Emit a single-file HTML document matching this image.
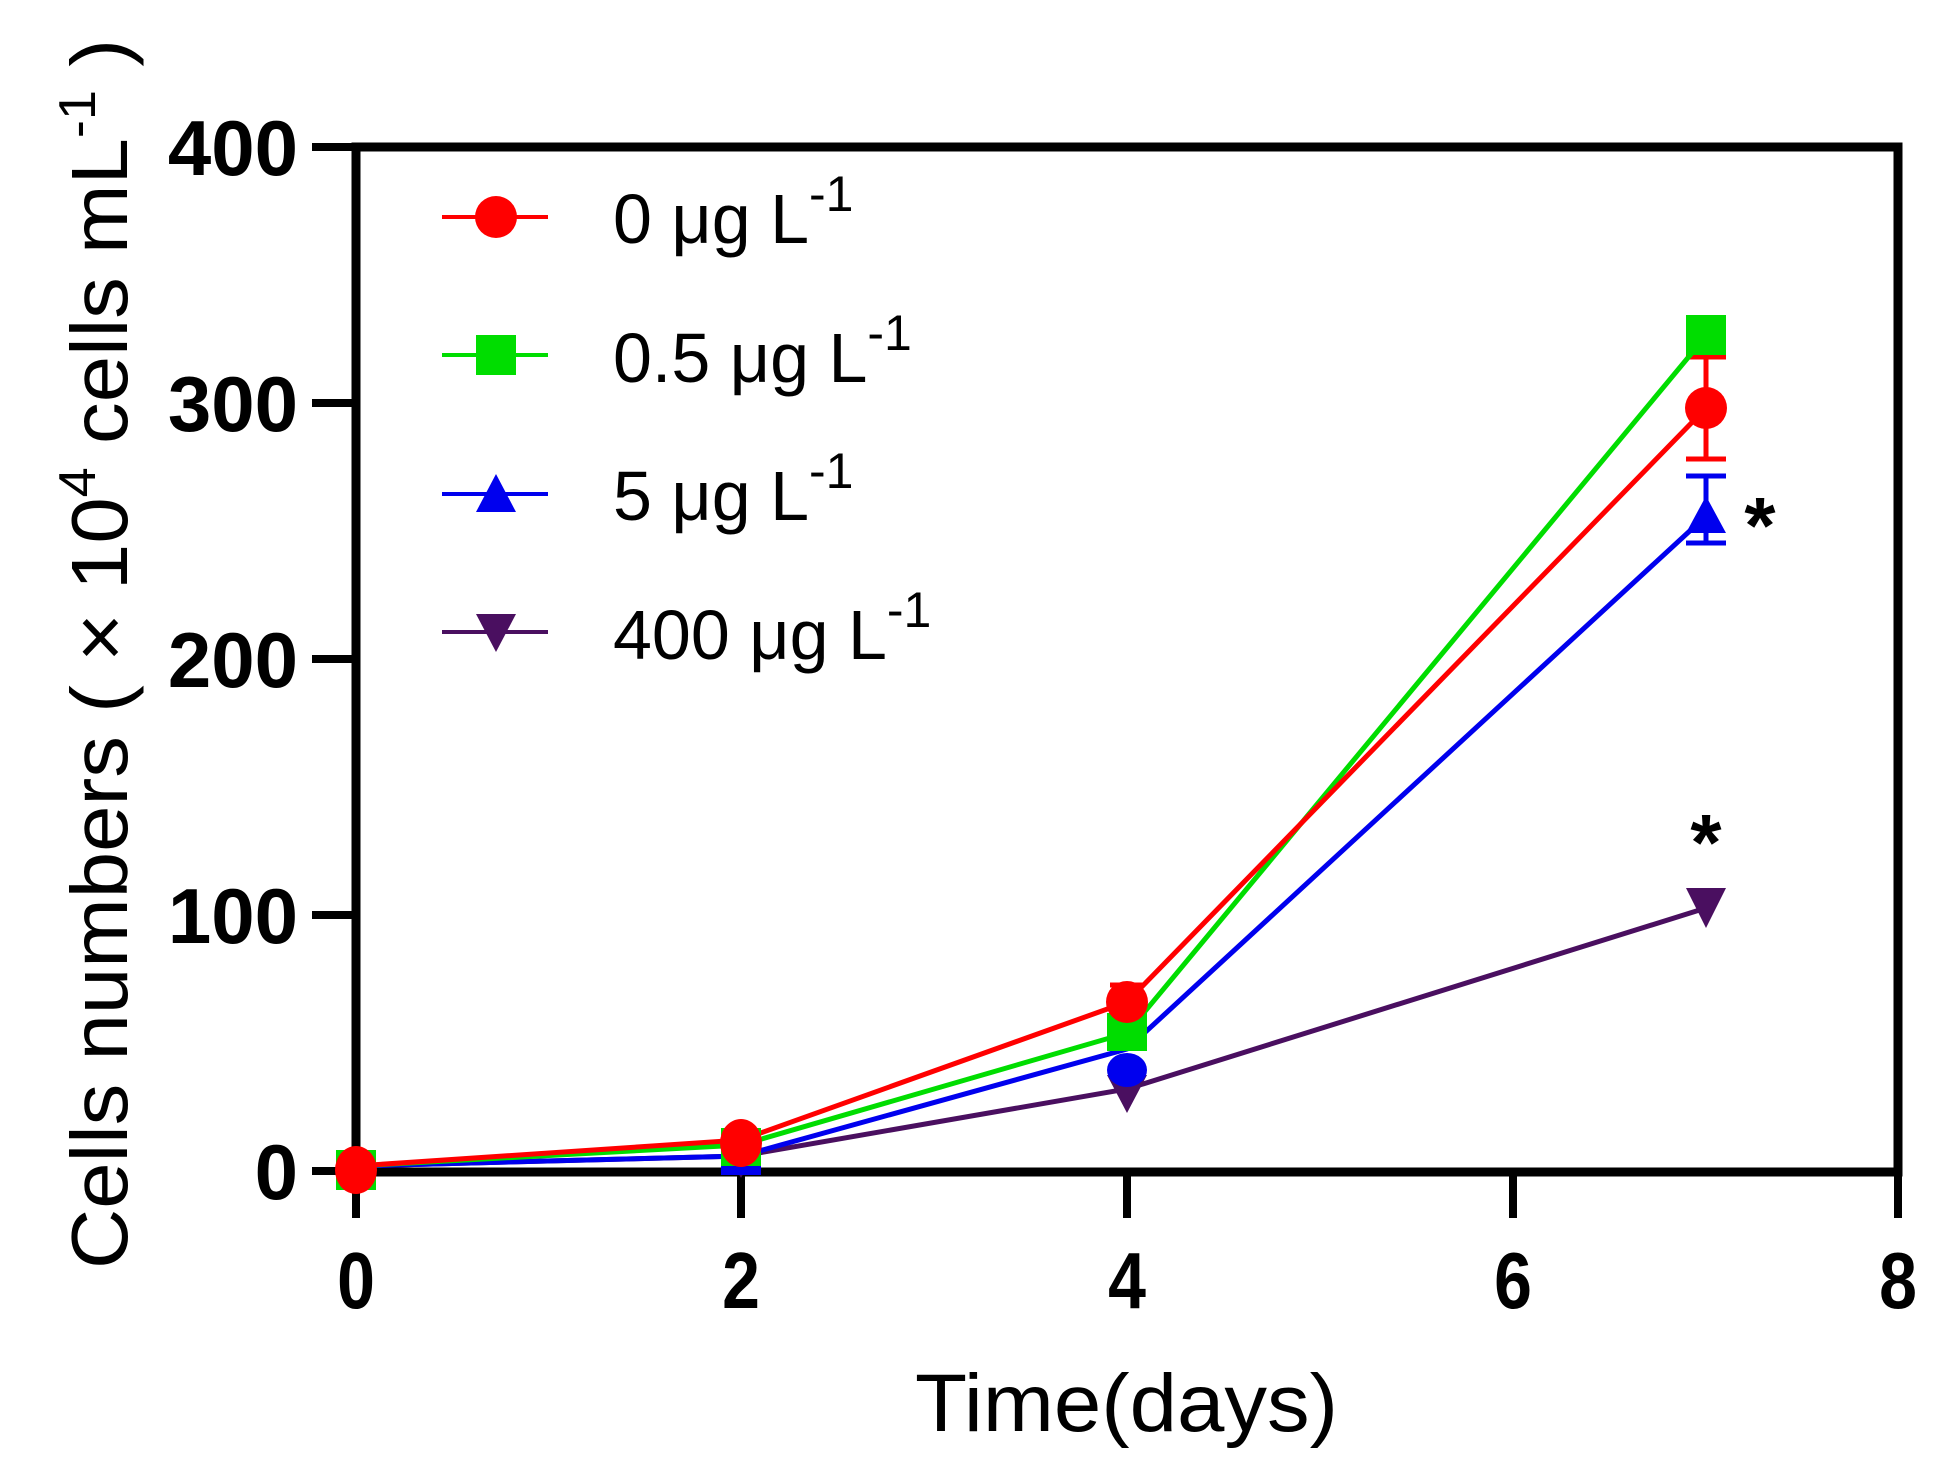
<!DOCTYPE html>
<html><head><meta charset="utf-8"><style>html,body{margin:0;padding:0;background:#fff}svg{display:block}</style></head>
<body>
<svg width="1951" height="1479" viewBox="0 0 1951 1479" xmlns="http://www.w3.org/2000/svg">
<g stroke="#000" stroke-width="9" fill="none">
<rect x="356" y="147" width="1542" height="1025"/>
</g>
<g stroke="#000" stroke-width="8">
<line x1="312" y1="147" x2="356" y2="147"/>
<line x1="312" y1="403" x2="356" y2="403"/>
<line x1="312" y1="659" x2="356" y2="659"/>
<line x1="312" y1="915" x2="356" y2="915"/>
<line x1="312" y1="1171" x2="356" y2="1171"/>
<line x1="356" y1="1171" x2="356" y2="1218"/>
<line x1="741" y1="1171" x2="741" y2="1218"/>
<line x1="1127" y1="1171" x2="1127" y2="1218"/>
<line x1="1513" y1="1171" x2="1513" y2="1218"/>
<line x1="1898" y1="1171" x2="1898" y2="1218"/>
</g>
<g font-family="Liberation Sans, sans-serif" font-weight="bold" font-size="78" text-anchor="end" fill="#000">
<text x="298" y="175">400</text>
<text x="298" y="431">300</text>
<text x="298" y="687">200</text>
<text x="298" y="943">100</text>
<text x="298" y="1199">0</text>
</g>
<g font-family="Liberation Sans, sans-serif" font-weight="bold" font-size="80" text-anchor="middle" fill="#000">
<text transform="translate(356,1308) scale(0.85,1)">0</text>
<text transform="translate(741,1308) scale(0.85,1)">2</text>
<text transform="translate(1127,1308) scale(0.85,1)">4</text>
<text transform="translate(1513,1308) scale(0.85,1)">6</text>
<text transform="translate(1898,1308) scale(0.85,1)">8</text>
</g>
<text transform="translate(127,1269) rotate(-90)" font-family="Liberation Sans, sans-serif" font-size="80" fill="#000" textLength="1230" lengthAdjust="spacingAndGlyphs">Cells numbers ( × 10<tspan font-size="52" dy="-32">4</tspan><tspan dy="32"> cells mL</tspan><tspan font-size="52" dy="-32">-1</tspan><tspan dy="32"> )</tspan></text>
<text x="915" y="1431" font-family="Liberation Sans, sans-serif" font-size="82" fill="#000" textLength="423" lengthAdjust="spacingAndGlyphs">Time(days)</text>

<g stroke-width="5">
<g stroke="#ff0000"><line x1="1706" y1="357" x2="1706" y2="459"/><line x1="1686" y1="459" x2="1726" y2="459"/><line x1="1686" y1="357" x2="1726" y2="357"/>
<line x1="1127" y1="985" x2="1127" y2="1018"/><line x1="1110" y1="985" x2="1144" y2="985"/></g>
<g stroke="#0000ee"><line x1="1706" y1="476" x2="1706" y2="543"/><line x1="1686" y1="476" x2="1726" y2="476"/><line x1="1686" y1="543" x2="1726" y2="543"/></g>
</g>
<g fill="none" stroke-width="5">
<polyline stroke="#4a0f60" points="356,1166 741,1156 1127,1089 1706,908"/>
<polyline stroke="#0000ee" points="356,1166 741,1156 1127,1049 1706,516"/>
<polyline stroke="#00dd00" points="356,1166 741,1145 1127,1033 1706,336"/>
<polyline stroke="#ff0000" points="356,1166 741,1140 1127,1002 1706,408"/>
</g>
<g>
<path fill="#4a0f60" d="M1686,888 L1726,888 L1706,928 Z M1107,1075 L1147,1075 L1127,1113 Z M721,1142 L761,1142 L741,1178 Z"/>
<path fill="#0000ee" d="M1686,533 L1726,533 L1706,496 Z"/>
<ellipse cx="1127" cy="1070" rx="20" ry="17" fill="#0000ee"/>
<rect x="721" y="1150" width="40" height="25" fill="#0000ee"/>
<rect x="1686" y="315" width="40" height="40" fill="#00dd00"/>
<rect x="1107" y="1013" width="40" height="38" fill="#00dd00"/>
<rect x="721" y="1128" width="40" height="38" fill="#00dd00"/>
<rect x="336" y="1150" width="40" height="40" fill="#00dd00"/>
<circle cx="1706" cy="408" r="21" fill="#ff0000"/>
<circle cx="1127" cy="1002" r="21" fill="#ff0000"/>
<ellipse cx="741" cy="1143" rx="21" ry="24" fill="#ff0000"/>
<ellipse cx="356" cy="1170" rx="21" ry="24" fill="#ff0000"/>
</g>
<g font-family="Liberation Sans, sans-serif" font-weight="bold" font-size="80" fill="#000" text-anchor="middle">
<text x="1760" y="553">*</text>
<text x="1706" y="870">*</text>
</g>
<g stroke-width="4">
<line x1="442" y1="217" x2="548" y2="217" stroke="#ff0000"/>
<line x1="442" y1="355" x2="548" y2="355" stroke="#00dd00"/>
<line x1="442" y1="494" x2="548" y2="494" stroke="#0000ee"/>
<line x1="442" y1="632" x2="548" y2="632" stroke="#4a0f60"/>
</g>
<circle cx="496" cy="217" r="21" fill="#ff0000"/>
<rect x="476" y="335" width="40" height="40" fill="#00dd00"/>
<path d="M476,512 L516,512 L496,474 Z" fill="#0000ee"/>
<path d="M476,614 L516,614 L496,652 Z" fill="#4a0f60"/>
<g font-family="Liberation Sans, sans-serif" font-size="70" fill="#000">
<text x="613" y="243">0 μg L<tspan font-size="50" dy="-32">-1</tspan></text>
<text x="613" y="382">0.5 μg L<tspan font-size="50" dy="-32">-1</tspan></text>
<text x="613" y="520">5 μg L<tspan font-size="50" dy="-32">-1</tspan></text>
<text x="613" y="659">400 μg L<tspan font-size="50" dy="-32">-1</tspan></text>
</g>
</svg>
</body></html>
